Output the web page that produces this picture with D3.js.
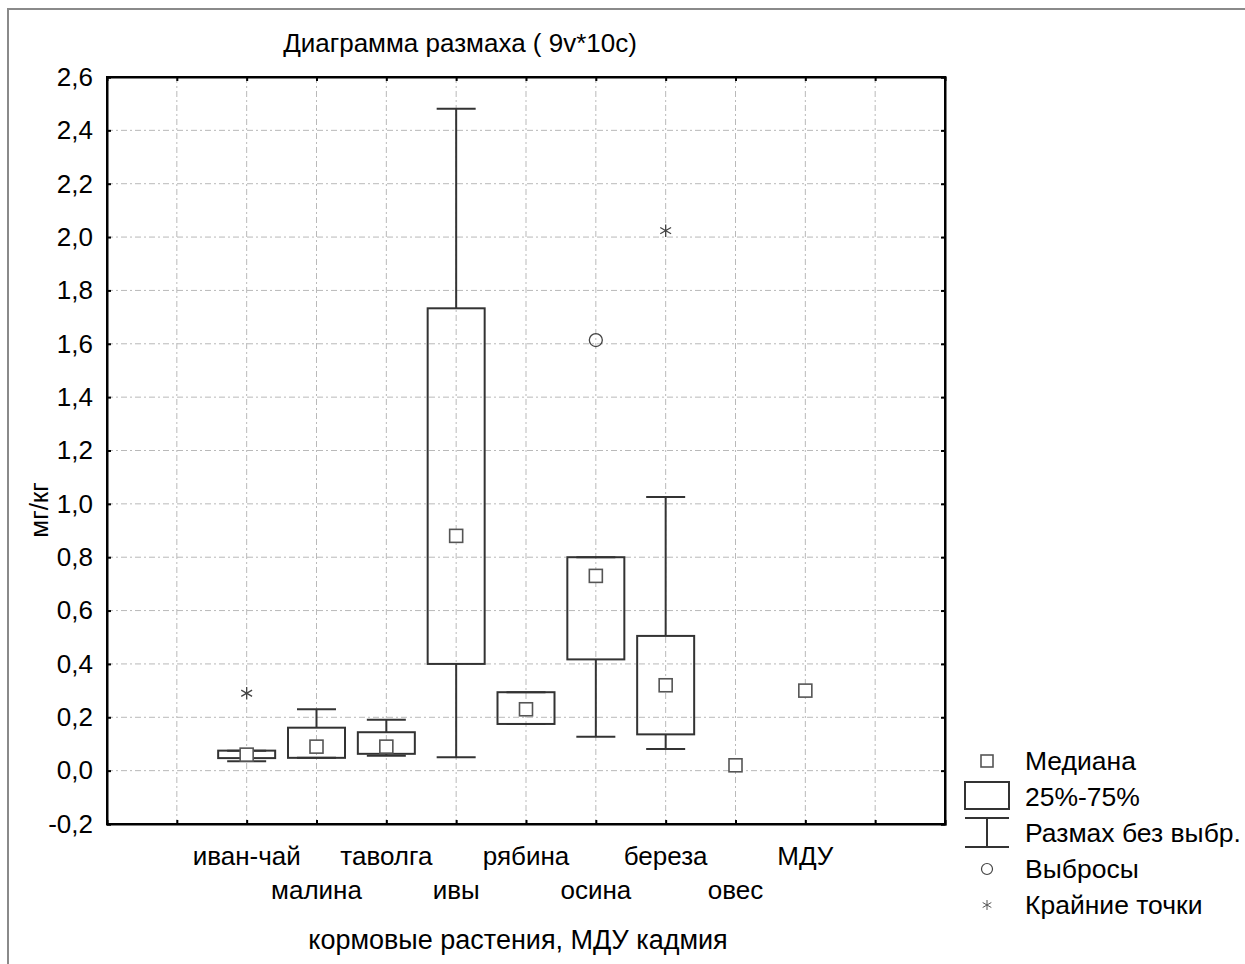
<!DOCTYPE html>
<html lang="ru">
<head>
<meta charset="utf-8">
<title>Диаграмма размаха</title>
<style>
    body { margin: 0; background: #fff; }
    svg { display: block; }
    .grid line { stroke: #b9b9b9; stroke-width: 1; stroke-dasharray: 6,3,2,3; }
    .lbl { font-family: "Liberation Sans", Arial, sans-serif; }
    .box { fill: none; stroke: #333; stroke-width: 2; }
    .median { fill: #fff; stroke: #555; stroke-width: 1.6; }
</style>
</head>
<body>
<div id="chart"></div>
<script src="https://cdn.jsdelivr.net/npm/d3@7"></script>
<script>
    // values
    const categories = ["иван-чай", "малина", "таволга", "ивы", "рябина", "осина", "береза", "овес", "МДУ"];
    const medians = [0.06, 0.09, 0.09, 0.88, 0.23, 0.73, 0.32, 0.02, 0.30];
    const q1 = [0.047, 0.048, 0.063, 0.40, 0.175, 0.417, 0.136, null, null];
    const q3 = [0.075, 0.161, 0.144, 1.733, 0.294, 0.80, 0.505, null, null];
    const whiskerLow = [0.035, 0.048, 0.056, 0.05, 0.175, 0.127, 0.081, null, null];
    const whiskerHigh = [0.075, 0.23, 0.191, 2.481, 0.294, 0.80, 1.026, null, null];
    const outliers = [{cat: "осина", v: 1.614}];
    const extremes = [{cat: "иван-чай", v: 0.29}, {cat: "береза", v: 2.024}];
    const yTicks = [-0.2, 0, 0.2, 0.4, 0.6, 0.8, 1.0, 1.2, 1.4, 1.6, 1.8, 2.0, 2.2, 2.4, 2.6];
    const xTicks = [1, 2, 3, 4, 5, 6, 7, 8, 9, 10, 11];

    const width = 1245, height = 964;
    const mLeft = 107, mRight = 945, mTop = 77, mBottom = 824;

    const svg = d3.select("#chart").append("svg")
        .attr("width", width)
        .attr("height", height);

    // outer gray frame
    svg.append("rect")
        .attr("x", 8).attr("y", 9)
        .attr("width", width).attr("height", height)
        .attr("fill", "none").attr("stroke", "#8a8a8a").attr("stroke-width", 2);

    const x = d3.scaleLinear().domain([0, 12]).range([mLeft, mRight]);
    const y = d3.scaleLinear().domain([-0.2, 2.6]).range([mBottom, mTop]);
    const cx = i => x(i + 2);

    // grid
    const grid = svg.append("g").attr("class", "grid");
    grid.selectAll("line.h")
        .data(yTicks.slice(1, -1))
        .enter().append("line")
        .attr("x1", mLeft).attr("x2", mRight)
        .attr("y1", d => y(d)).attr("y2", d => y(d));
    grid.selectAll("line.v")
        .data(xTicks)
        .enter().append("line")
        .attr("y1", mTop).attr("y2", mBottom)
        .attr("x1", d => x(d)).attr("x2", d => x(d));

    // axes with inner ticks on all sides
    const fmt = d => d3.format(".1f")(d).replace(".", ",").replace("−", "-");
    svg.append("g")
        .attr("transform", "translate(" + mLeft + ",0)")
        .call(d3.axisLeft(y).tickValues(yTicks).tickSize(-4).tickPadding(14).tickFormat(fmt))
        .call(g => g.selectAll("text").attr("class", "lbl").attr("font-size", 26).attr("fill", "#000"));
    svg.append("g")
        .attr("transform", "translate(" + mRight + ",0)")
        .call(d3.axisRight(y).tickValues(yTicks).tickSize(-4).tickFormat(""));
    svg.append("g")
        .attr("transform", "translate(0," + mBottom + ")")
        .call(d3.axisBottom(x).tickValues(xTicks).tickSize(-4).tickFormat(""));
    svg.append("g")
        .attr("transform", "translate(0," + mTop + ")")
        .call(d3.axisTop(x).tickValues(xTicks).tickSize(-4).tickFormat(""));
    svg.selectAll(".domain").attr("stroke", "#000").attr("stroke-width", 2);
    svg.selectAll(".tick line").attr("stroke", "#000").attr("stroke-width", 2);

    svg.append("rect")
        .attr("x", mLeft).attr("y", mTop)
        .attr("width", mRight - mLeft).attr("height", mBottom - mTop)
        .attr("fill", "none").attr("stroke", "#000").attr("stroke-width", 2);

    // boxes and whiskers
    const boxW = 57, capW = 39;
    const plot = svg.append("g");
    categories.forEach((c, i) => {
        if (q1[i] === null) return;
        const xc = cx(i);
        plot.append("line").attr("class", "box")
            .attr("x1", xc).attr("x2", xc).attr("y1", y(whiskerHigh[i])).attr("y2", y(q3[i]));
        plot.append("line").attr("class", "box")
            .attr("x1", xc).attr("x2", xc).attr("y1", y(q1[i])).attr("y2", y(whiskerLow[i]));
        plot.append("line").attr("class", "box")
            .attr("x1", xc - capW / 2).attr("x2", xc + capW / 2)
            .attr("y1", y(whiskerHigh[i])).attr("y2", y(whiskerHigh[i]));
        plot.append("line").attr("class", "box")
            .attr("x1", xc - capW / 2).attr("x2", xc + capW / 2)
            .attr("y1", y(whiskerLow[i])).attr("y2", y(whiskerLow[i]));
        plot.append("rect").attr("class", "box")
            .attr("x", xc - boxW / 2).attr("width", boxW)
            .attr("y", y(q3[i])).attr("height", y(q1[i]) - y(q3[i]));
    });

    plot.selectAll("rect.median")
        .data(medians)
        .enter().append("rect")
        .attr("class", "median")
        .attr("x", (d, i) => cx(i) - 6.5).attr("y", d => y(d) - 6.5)
        .attr("width", 13).attr("height", 13);

    plot.selectAll("circle.out")
        .data(outliers)
        .enter().append("circle")
        .attr("cx", d => cx(categories.indexOf(d.cat))).attr("cy", d => y(d.v))
        .attr("r", 6.5).attr("fill", "none").attr("stroke", "#444").attr("stroke-width", 1.3);

    const star = d3.symbol().type(d3.symbolAsterisk).size(110);
    plot.selectAll("path.ext")
        .data(extremes)
        .enter().append("path")
        .attr("d", star)
        .attr("transform", d => "translate(" + cx(categories.indexOf(d.cat)) + "," + y(d.v) + ")")
        .attr("fill", "none").attr("stroke", "#444").attr("stroke-width", 1.3);

    // category labels in two rows
    svg.append("g").selectAll("text")
        .data(categories)
        .enter().append("text")
        .attr("class", "lbl")
        .attr("x", (d, i) => cx(i))
        .attr("y", (d, i) => i % 2 === 0 ? 865 : 899)
        .attr("text-anchor", "middle")
        .attr("font-size", 26)
        .text(d => d);

    svg.append("text").attr("class", "lbl")
        .attr("x", 518).attr("y", 949).attr("text-anchor", "middle").attr("font-size", 27)
        .text("кормовые растения, МДУ кадмия");

    svg.append("text").attr("class", "lbl")
        .attr("x", 460).attr("y", 52).attr("text-anchor", "middle").attr("font-size", 26)
        .text("Диаграмма размаха ( 9v*10c)");

    svg.append("text").attr("class", "lbl")
        .attr("transform", "translate(48,510) rotate(-90)")
        .attr("text-anchor", "middle").attr("font-size", 26)
        .text("мг/кг");

    // legend
    const lg = svg.append("g").attr("class", "lbl").attr("font-size", 26.5);
    const lx = 987, tx = 1025;
    lg.append("rect").attr("class", "median")
        .attr("x", lx - 6).attr("y", 755).attr("width", 12).attr("height", 12).attr("stroke-width", 1.2);
    lg.append("rect").attr("class", "box")
        .attr("x", lx - 22).attr("y", 782).attr("width", 44).attr("height", 27).attr("stroke-width", 1.6);
    lg.append("line").attr("class", "box").attr("stroke-width", 1.6)
        .attr("x1", lx - 22).attr("x2", lx + 22).attr("y1", 818).attr("y2", 818);
    lg.append("line").attr("class", "box").attr("stroke-width", 1.6)
        .attr("x1", lx - 22).attr("x2", lx + 22).attr("y1", 847).attr("y2", 847);
    lg.append("line").attr("class", "box").attr("stroke-width", 1.6)
        .attr("x1", lx).attr("x2", lx).attr("y1", 818).attr("y2", 847);
    lg.append("circle").attr("cx", lx).attr("cy", 869).attr("r", 5.5)
        .attr("fill", "none").attr("stroke", "#444").attr("stroke-width", 1.2);
    lg.append("path").attr("d", d3.symbol().type(d3.symbolAsterisk).size(70))
        .attr("transform", "translate(" + lx + ",905)")
        .attr("fill", "none").attr("stroke", "#555").attr("stroke-width", 1);
    const legendText = ["Медиана", "25%-75%", "Размах без выбр.", "Выбросы", "Крайние точки"];
    const legendY = [761, 797, 833, 869, 905];
    lg.selectAll("text.l")
        .data(legendText)
        .enter().append("text")
        .attr("x", tx).attr("y", (d, i) => legendY[i]).attr("dy", "0.35em")
        .text(d => d);
</script>
</body>
</html>
